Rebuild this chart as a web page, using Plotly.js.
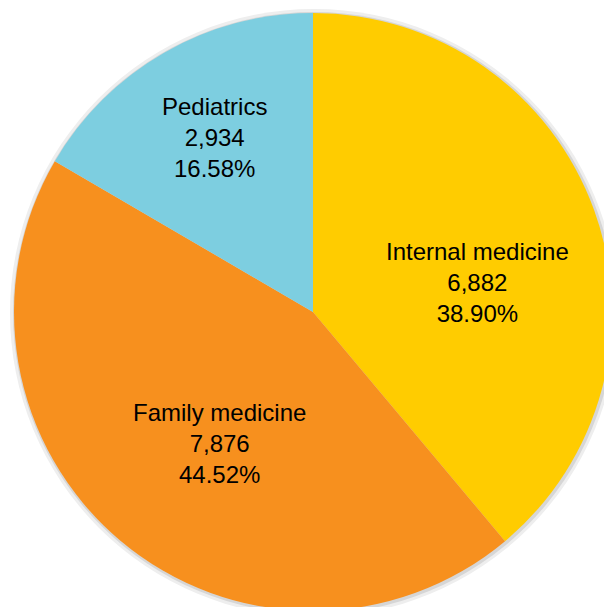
<!DOCTYPE html>
<html>
<head>
<meta charset="utf-8">
<script src="https://cdn.plot.ly/plotly-3.0.1.min.js"></script>
<style>
html, body { margin: 0; padding: 0; overflow: hidden; background: #ffffff; }
#chart { width: 640px; height: 640px; }
</style>
</head>
<body>
<div id="chart"></div>
<script>
// ---- data ----
var categories = ["Internal medicine", "Family medicine", "Pediatrics"];
var counts = [6882, 7876, 2934];
var sliceColors = ["#FFCC00", "#F7901E", "#7DCEE0"];

// ---- layout parameters (positions/styles) ----
var W = 640, H = 640;
var cx = 313, cy = 312, R = 299;
var labelRadiusFrac = [0.56, 0.54, 0.67];
var labelAngleTweak = [10, -4.7, 0.5];
var fontFamily = "Arial, 'Liberation Sans', sans-serif";

function dom(cxp, cyp, r) {
  return {
    x: [(cxp - r) / W, (cxp + r) / W],
    y: [1 - (cyp + r) / H, 1 - (cyp - r) / H]
  };
}

var total = counts.reduce(function (a, b) { return a + b; }, 0);

var shadowOuter = {
  type: "pie", values: [1], sort: false, textinfo: "none", hoverinfo: "skip",
  marker: { colors: ["#eeeeee"], line: { width: 0 } },
  domain: dom(cx + 1, cy + 1, R + 5), showlegend: false
};
var shadowInner = {
  type: "pie", values: [1], sort: false, textinfo: "none", hoverinfo: "skip",
  marker: { colors: ["#d6d6d6"], line: { width: 0 } },
  domain: dom(cx + 1, cy + 1, R + 2), showlegend: false
};

var pie = {
  type: "pie",
  labels: categories,
  values: counts,
  sort: false,
  direction: "clockwise",
  rotation: 0,
  textinfo: "none",
  marker: { colors: sliceColors, line: { width: 0 } },
  domain: dom(cx, cy, R),
  showlegend: false
};

var annotations = [];
var cum = 0;
for (var i = 0; i < counts.length; i++) {
  var mid = 360 * (cum + counts[i] / 2) / total + labelAngleTweak[i];
  cum += counts[i];
  var th = mid * Math.PI / 180;
  var r = labelRadiusFrac[i] * R;
  var px = cx + r * Math.sin(th);
  var py = cy - r * Math.cos(th);
  var pct = (100 * counts[i] / total).toFixed(2) + "%";
  annotations.push({
    xref: "paper", yref: "paper",
    x: px / W, y: 1 - py / H,
    xanchor: "center", yanchor: "middle",
    showarrow: false,
    align: "center",
    text: categories[i] + "<br>" + counts[i].toLocaleString("en-US") + "<br>" + pct,
    font: { family: fontFamily, size: 24, color: "#000000" }
  });
}

var layout = {
  width: W, height: H,
  margin: { l: 0, r: 0, t: 0, b: 0 },
  paper_bgcolor: "#ffffff",
  plot_bgcolor: "#ffffff",
  showlegend: false,
  annotations: annotations
};

Plotly.newPlot("chart", [shadowOuter, shadowInner, pie], layout, { displayModeBar: false, staticPlot: true });
</script>
</body>
</html>
